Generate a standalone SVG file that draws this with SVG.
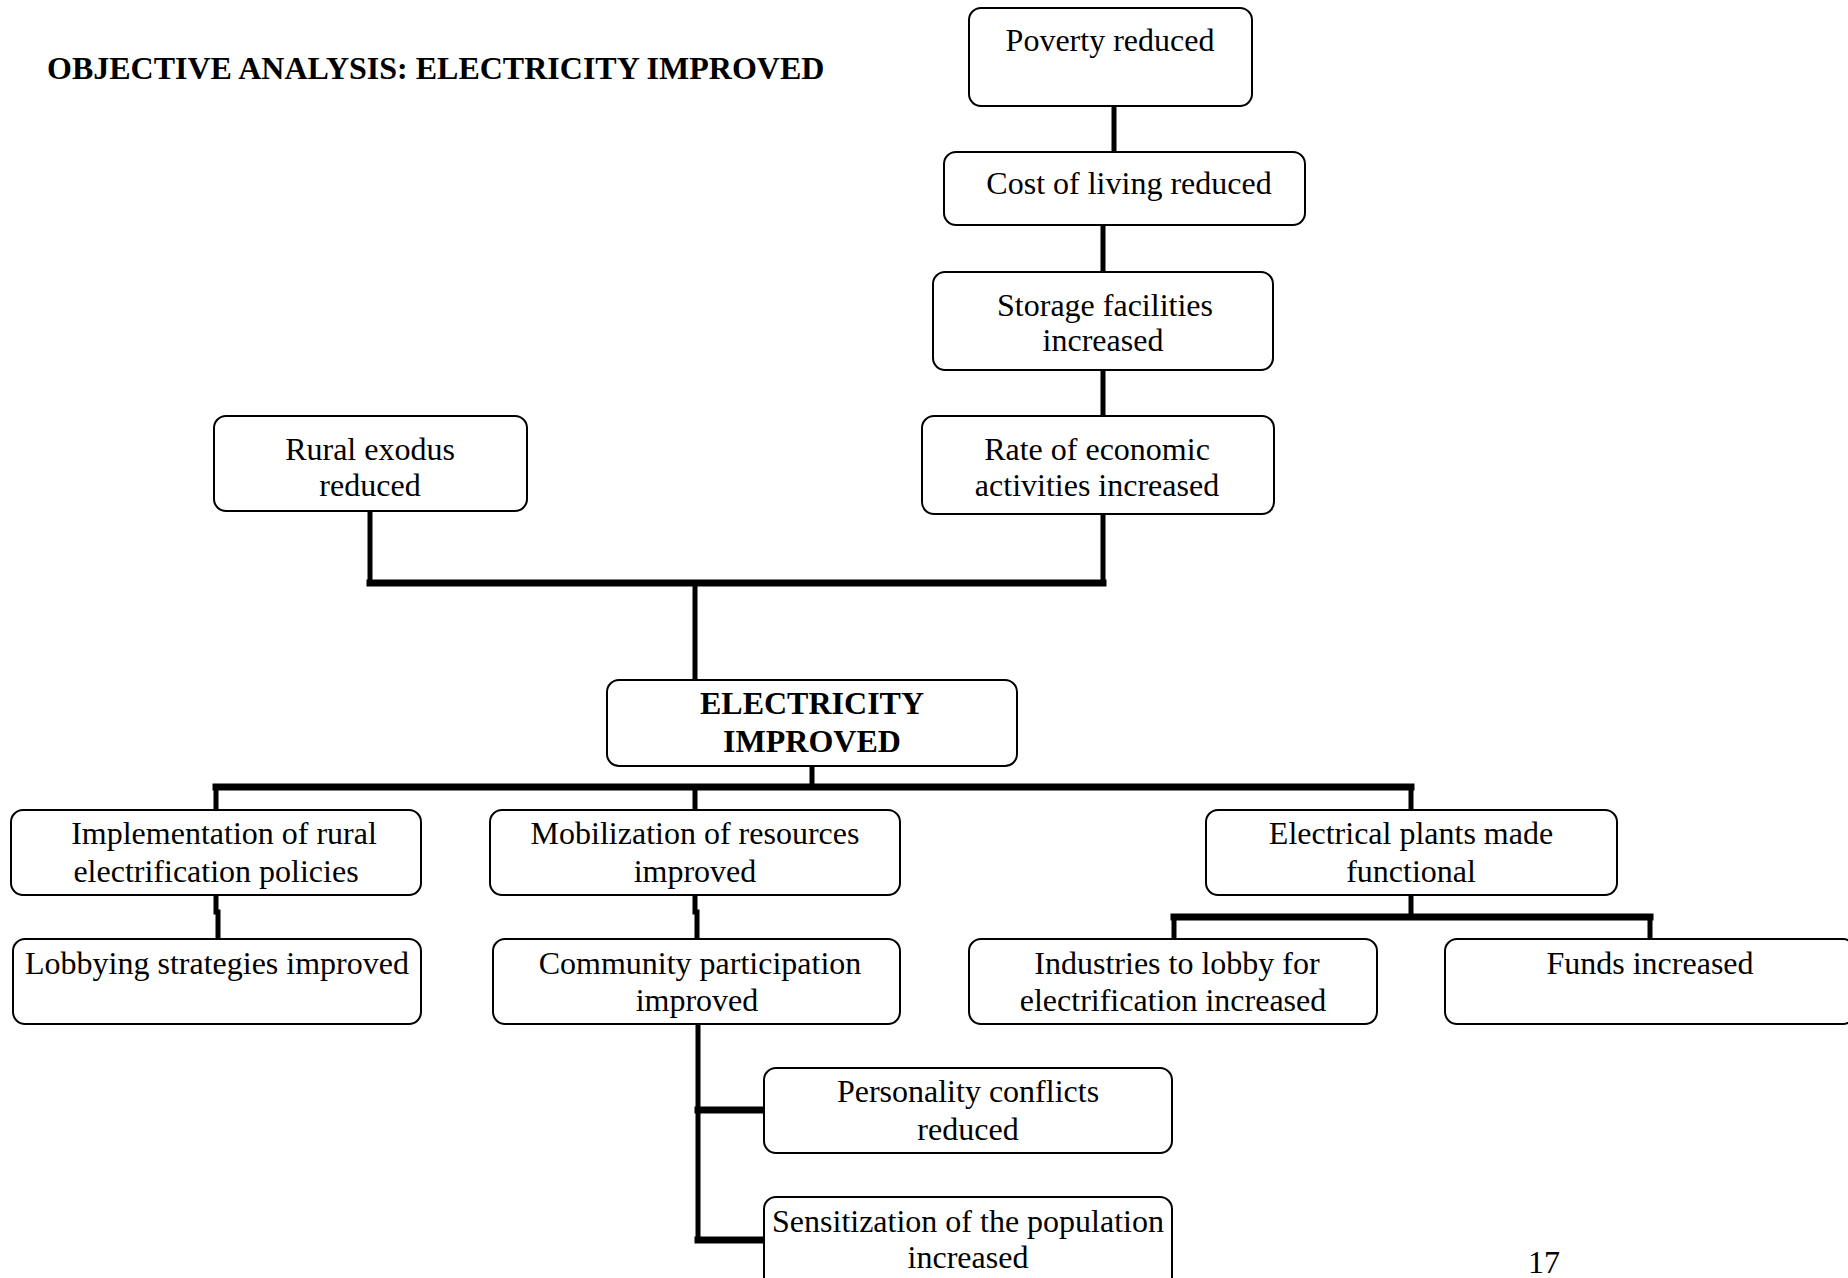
<svg xmlns="http://www.w3.org/2000/svg" width="1848" height="1278" viewBox="0 0 1848 1278">
  <style>
    .box { fill: #ffffff; stroke: #000000; stroke-width: 2; }
    .lbl { font-family: "Liberation Serif", "Times New Roman", serif; font-size: 32px; fill: #000000; text-anchor: middle; }
    .bold { font-weight: bold; }
    .title { font-family: "Liberation Serif", "Times New Roman", serif; font-size: 32px; font-weight: bold; fill: #000000; }
    .wire { fill: none; stroke: #000000; stroke-width: 5; stroke-linecap: square; }
    .bus { fill: none; stroke: #000000; stroke-width: 7; stroke-linecap: square; }
  </style>

  <rect width="1848" height="1278" fill="#ffffff"/>

  <text class="title" x="47" y="79">OBJECTIVE ANALYSIS: ELECTRICITY IMPROVED</text>

  <!-- connectors -->
  <g id="connectors">
    <line class="wire" x1="1114" y1="108" x2="1114" y2="150"/>
    <line class="wire" x1="1103" y1="227" x2="1103" y2="270"/>
    <line class="wire" x1="1103" y1="372" x2="1103" y2="414"/>
    <line class="wire" x1="1103" y1="516" x2="1103" y2="583"/>
    <line class="wire" x1="370" y1="513" x2="370" y2="583"/>
    <line class="bus" x1="370" y1="583" x2="1103" y2="583"/>
    <line class="wire" x1="695" y1="583" x2="695" y2="678"/>

    <line class="wire" x1="812" y1="768" x2="812" y2="787"/>
    <line class="bus" x1="216" y1="787" x2="1411" y2="787"/>
    <line class="wire" x1="216" y1="787" x2="216" y2="808"/>
    <line class="wire" x1="695" y1="787" x2="695" y2="808"/>
    <line class="wire" x1="1411" y1="787" x2="1411" y2="808"/>

    <polyline class="wire" points="216,897 216,912 218,912 218,937"/>
    <polyline class="wire" points="695,897 695,912 697,912 697,937"/>

    <line class="wire" x1="1411" y1="897" x2="1411" y2="917"/>
    <line class="bus" x1="1174" y1="917" x2="1650" y2="917"/>
    <line class="wire" x1="1174" y1="917" x2="1174" y2="937"/>
    <line class="wire" x1="1650" y1="917" x2="1650" y2="937"/>

    <line class="wire" x1="698" y1="1026" x2="698" y2="1240"/>
    <line class="bus" x1="698" y1="1110" x2="762" y2="1110"/>
    <line class="bus" x1="698" y1="1240" x2="762" y2="1240"/>
  </g>

  <!-- nodes -->
  <g id="poverty">
    <rect class="box" x="969" y="8" width="283" height="98" rx="12"/>
    <text class="lbl" x="1110" y="51">Poverty reduced</text>
  </g>
  <g id="cost-of-living">
    <rect class="box" x="944" y="152" width="361" height="73" rx="12"/>
    <text class="lbl" x="1129" y="194">Cost of living reduced</text>
  </g>
  <g id="storage">
    <rect class="box" x="933" y="272" width="340" height="98" rx="12"/>
    <text class="lbl" x="1105" y="316">Storage facilities</text>
    <text class="lbl" x="1103" y="351">increased</text>
  </g>
  <g id="economic-activities">
    <rect class="box" x="922" y="416" width="352" height="98" rx="12"/>
    <text class="lbl" x="1097" y="460">Rate of economic</text>
    <text class="lbl" x="1097" y="496">activities increased</text>
  </g>
  <g id="rural-exodus">
    <rect class="box" x="214" y="416" width="313" height="95" rx="12"/>
    <text class="lbl" x="370" y="460">Rural exodus</text>
    <text class="lbl" x="370" y="496">reduced</text>
  </g>
  <g id="electricity">
    <rect class="box" x="607" y="680" width="410" height="86" rx="12"/>
    <text class="lbl bold" x="812" y="714">ELECTRICITY</text>
    <text class="lbl bold" x="812" y="752">IMPROVED</text>
  </g>
  <g id="policies">
    <rect class="box" x="11" y="810" width="410" height="85" rx="12"/>
    <text class="lbl" x="224" y="844">Implementation of rural</text>
    <text class="lbl" x="216" y="882">electrification policies</text>
  </g>
  <g id="mobilization">
    <rect class="box" x="490" y="810" width="410" height="85" rx="12"/>
    <text class="lbl" x="695" y="844">Mobilization of resources</text>
    <text class="lbl" x="695" y="882">improved</text>
  </g>
  <g id="plants">
    <rect class="box" x="1206" y="810" width="411" height="85" rx="12"/>
    <text class="lbl" x="1411" y="844">Electrical plants made</text>
    <text class="lbl" x="1411" y="882">functional</text>
  </g>
  <g id="lobbying">
    <rect class="box" x="13" y="939" width="408" height="85" rx="12"/>
    <text class="lbl" x="217" y="974">Lobbying strategies improved</text>
  </g>
  <g id="community">
    <rect class="box" x="493" y="939" width="407" height="85" rx="12"/>
    <text class="lbl" x="700" y="974">Community participation</text>
    <text class="lbl" x="697" y="1011">improved</text>
  </g>
  <g id="industries">
    <rect class="box" x="969" y="939" width="408" height="85" rx="12"/>
    <text class="lbl" x="1177" y="974">Industries to lobby for</text>
    <text class="lbl" x="1173" y="1011">electrification increased</text>
  </g>
  <g id="funds">
    <rect class="box" x="1445" y="939" width="410" height="85" rx="12"/>
    <text class="lbl" x="1650" y="974">Funds increased</text>
  </g>
  <g id="personality">
    <rect class="box" x="764" y="1068" width="408" height="85" rx="12"/>
    <text class="lbl" x="968" y="1102">Personality conflicts</text>
    <text class="lbl" x="968" y="1140">reduced</text>
  </g>
  <g id="sensitization">
    <rect class="box" x="764" y="1197" width="408" height="95" rx="12"/>
    <text class="lbl" x="968" y="1232">Sensitization of the population</text>
    <text class="lbl" x="968" y="1268">increased</text>
  </g>

  <text class="lbl" x="1544" y="1273">17</text>
</svg>
